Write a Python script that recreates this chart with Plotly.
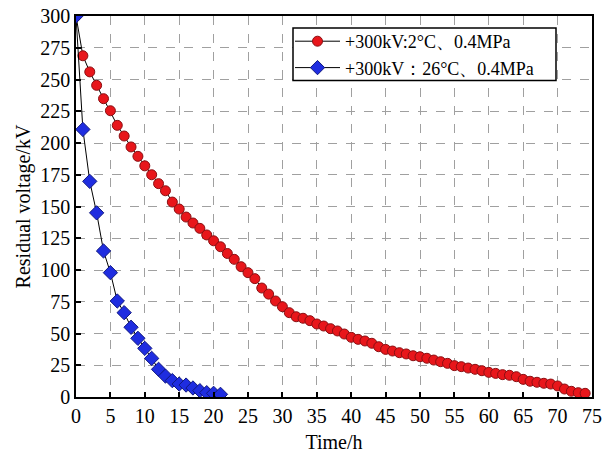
import plotly.graph_objects as go

# Residual voltage decay for two temperature conditions
time_cold = list(range(0, 75))
volt_cold = [300, 268.7, 256, 245.4, 234.9, 225.4, 213.9, 205.5, 196.9, 189.5,
             182, 175, 168, 162.4, 153.5, 148, 141.7, 137, 132.8, 127.6,
             123, 118.3, 113, 108.4, 102.6, 97.9, 93.2, 85.8, 81, 75.6,
             71.1, 66.4, 63.2, 62.0, 60.1, 57.5, 55.9, 53.8, 52, 49.6,
             47, 45.4, 44.1, 42.3, 39.6, 37.5, 36.2, 34.9, 33.9, 32.5,
             31.7, 30.5, 29.1, 27.8, 26.5, 24.7, 23.9, 22.8, 21.8, 20.7,
             19.4, 18.6, 17.6, 17.1, 16, 13.9, 12.4, 11.6, 10.8, 10.2,
             8.7, 6.3, 4.5, 3.4, 2.9]

time_warm = list(range(0, 22))
volt_warm = [300, 210.7, 169.8, 145, 115, 97.9, 75.6, 66.4, 54.9, 46.2,
             38.3, 30.4, 21.8, 16.5, 12.9, 10.2, 9.4, 7.1, 5, 3.4,
             2.9, 2.1]

x_ticks = list(range(0, 80, 5))
y_ticks = list(range(0, 325, 25))

label_cold = "+300kV:2°C、0.4MPa"
label_warm = "+300kV：26°C、0.4MPa"

serif = "Liberation Serif, Times New Roman, serif"

fig = go.Figure()
fig.add_trace(go.Scatter(
    x=time_cold, y=volt_cold, mode="lines+markers", name=label_cold,
    line=dict(color="black", width=1),
    marker=dict(symbol="circle", size=10, color="#e8161b",
                line=dict(color="#8a0f12", width=1)),
))
fig.add_trace(go.Scatter(
    x=time_warm, y=volt_warm, mode="lines+markers", name=label_warm,
    line=dict(color="black", width=1),
    marker=dict(symbol="diamond", size=11, color="#1f2de0",
                line=dict(color="#101880", width=1)),
))

axis_common = dict(
    showline=True, linecolor="black", linewidth=1.5, mirror=True,
    ticks="inside", ticklen=5, tickcolor="black", tickwidth=1.5,
    showgrid=True, gridcolor="#a0a0a0", griddash="dash", gridwidth=1,
    zeroline=False, automargin=False,
    tickfont=dict(family=serif, size=20, color="black"),
)

fig.update_xaxes(
    range=[0, 75], tickvals=x_ticks,
    title=dict(text="Time/h", font=dict(family=serif, size=20, color="black"),
               standoff=16),
    **axis_common,
)
fig.update_yaxes(
    range=[0, 300], tickvals=y_ticks,
    title=dict(text="Residual voltage/kV",
               font=dict(family=serif, size=20, color="black"), standoff=4),
    **axis_common,
)

# Framed white panel behind the legend entries
fig.add_shape(
    type="rect", xref="paper", yref="paper",
    x0=(293 - 76) / 516, x1=(556 - 76) / 516,
    y0=(397 - 80.5) / 381, y1=(397 - 28) / 381,
    line=dict(color="black", width=1.5), fillcolor="white", layer="above",
)

fig.update_layout(
    width=603, height=453,
    margin=dict(l=76, r=11, t=16, b=56),
    paper_bgcolor="white", plot_bgcolor="white",
    font=dict(family=serif, color="black"),
    legend=dict(
        x=(290 - 76) / 516, y=(397 - 23) / 381, xanchor="left", yanchor="top",
        bgcolor="rgba(0,0,0,0)", borderwidth=0,
        font=dict(family=serif, size=18, color="black"),
        tracegroupgap=0, itemwidth=45,
    ),
    showlegend=True,
)

fig.write_html("out.html")
